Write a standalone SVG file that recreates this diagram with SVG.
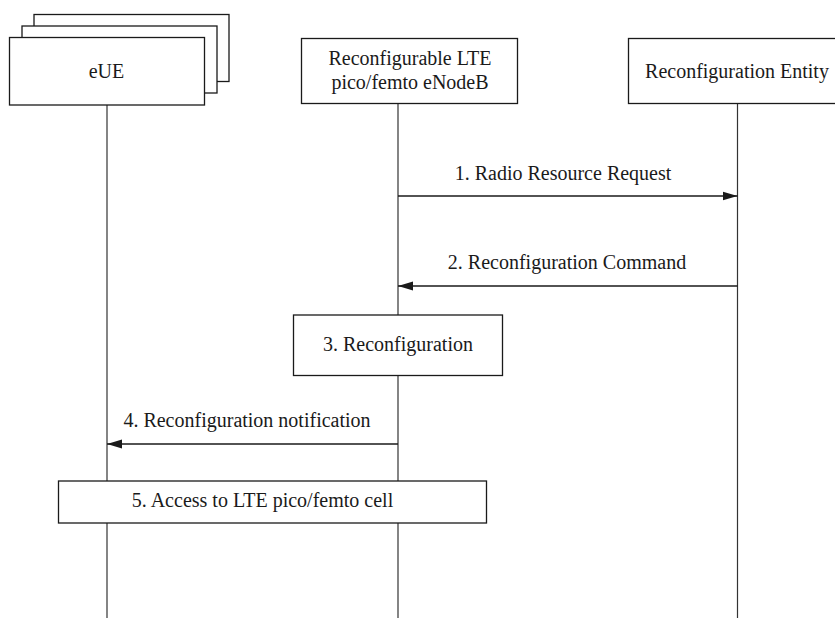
<svg xmlns="http://www.w3.org/2000/svg" width="835" height="618" viewBox="0 0 835 618">
  <style>
    .box { fill: #fff; stroke: #1a1a1a; stroke-width: 1.3; }
    .life { stroke: #333; stroke-width: 1.2; fill: none; }
    .msg { stroke: #1a1a1a; stroke-width: 1.3; fill: none; }
    text { font-family: "Liberation Serif", "Times New Roman", serif; font-size: 20px; fill: #1a1a1a; }
    .c { text-anchor: middle; }
  </style>
  <defs>
    <marker id="arrow" markerUnits="userSpaceOnUse" markerWidth="16" markerHeight="10" refX="15" refY="5" orient="auto">
      <path d="M0,0.6 L15,5 L0,9.4 Z" fill="#1a1a1a"/>
    </marker>
  </defs>

  <!-- lifelines -->
  <g id="lifelines">
    <line class="life" x1="107" y1="105" x2="107" y2="618"/>
    <line class="life" x1="398" y1="103" x2="398" y2="618"/>
    <line class="life" x1="737.5" y1="103" x2="737.5" y2="618"/>
  </g>

  <!-- participants -->
  <g id="eUE">
    <rect class="box" x="34" y="14.5" width="195" height="67"/>
    <rect class="box" x="22" y="26" width="195" height="67"/>
    <rect class="box" x="9.5" y="37.5" width="195" height="67.5"/>
    <text class="c" x="106.5" y="78">eUE</text>
  </g>
  <g id="eNodeB">
    <rect class="box" x="301.5" y="38.5" width="216" height="65"/>
    <text class="c" x="410" y="65">Reconfigurable LTE</text>
    <text class="c" x="410" y="89">pico/femto eNodeB</text>
  </g>
  <g id="reconfigEntity">
    <rect class="box" x="628.5" y="38.5" width="220" height="65"/>
    <text class="c" x="737" y="78">Reconfiguration Entity</text>
  </g>

  <!-- messages -->
  <g id="connectors">
    <line class="msg" x1="398" y1="196" x2="737.5" y2="196" marker-end="url(#arrow)"/>
    <text class="c" x="563" y="180">1. Radio Resource Request</text>
    <line class="msg" x1="737.5" y1="286" x2="398" y2="286" marker-end="url(#arrow)"/>
    <text class="c" x="567" y="269">2. Reconfiguration Command</text>
    <line class="msg" x1="398" y1="444" x2="107" y2="444" marker-end="url(#arrow)"/>
    <text class="c" x="247" y="427">4. Reconfiguration notification</text>
  </g>

  <!-- actions -->
  <g id="step3">
    <rect class="box" x="293.5" y="315" width="209" height="60.5"/>
    <text class="c" x="398" y="351">3. Reconfiguration</text>
  </g>
  <g id="step5">
    <rect class="box" x="58.5" y="481" width="428" height="42"/>
    <text class="c" x="262.5" y="507">5. Access to LTE pico/femto cell</text>
  </g>
</svg>
